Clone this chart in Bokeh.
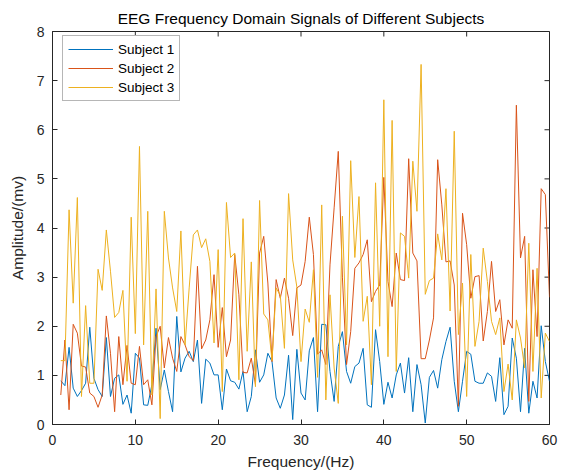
import math
from bokeh.plotting import figure
from bokeh.models import Range1d, FixedTicker, Legend, LegendItem
from bokeh.embed import file_html
from bokeh.resources import INLINE

# frequency grid (Hz), 0.5 Hz steps from 1 to 60
freq = [1 + 0.5 * i for i in range(119)]

subject1 = [
    0.89, 0.79, 1.57, 0.74, 0.57, 0.69, 0.84, 1.98, 0.94, 0.71,  # 1-5.5
    0.57, 1.77, 0.57, 0.94, 1.01, 0.41, 0.60, 0.23, 1.45, 1.35,  # 6-10.5
    0.40, 0.39, 0.81, 1.96, 0.71, 1.11, 0.67, 0.26, 2.20, 1.07,  # 11-15.5
    1.35, 1.49, 1.28, 1.72, 0.43, 1.33, 1.25, 1.01, 1.01, 0.30,  # 16-20.5
    1.13, 0.89, 0.86, 0.72, 1.08, 0.26, 0.57, 1.52, 0.86, 1.01,  # 21-25.5
    1.45, 1.28, 0.54, 0.33, 0.60, 1.41, 0.10, 1.53, 0.64, 0.50,  # 26-30.5
    1.50, 1.77, 0.26, 2.04, 2.03, 1.08, 0.47, 1.59, 1.89, 1.08,  # 31-35.5
    0.84, 1.18, 1.25, 1.55, 0.40, 0.35, 1.93, 1.28, 0.41, 0.86,  # 36-40.5
    0.54, 1.01, 1.25, 0.64, 1.36, 0.26, 1.22, 0.81, 0.03, 0.96,  # 41-45.5
    1.10, 0.74, 1.32, 1.69, 1.98, 0.88, 0.26, 0.88, 1.49, 1.43,  # 46-50.5
    0.88, 0.84, 0.84, 1.05, 0.98, 0.47, 1.36, 0.20, 0.37, 1.76,  # 51-55.5
    1.35, 0.26, 1.55, 0.23, 0.88, 0.54, 2.01, 1.28, 0.88,        # 56-60
]

subject2 = [
    0.60, 1.72, 0.30, 2.04, 1.86, 1.19, 1.17, 0.64, 0.57, 0.35,
    0.60, 2.21, 1.45, 0.26, 1.79, 0.81, 1.61, 0.84, 0.81, 1.59,
    0.81, 0.91, 0.40, 1.79, 2.00, 1.15, 1.77, 1.35, 1.08, 1.79,
    1.62, 1.38, 1.30, 3.22, 1.54, 1.72, 2.13, 3.05, 1.57, 2.38,
    1.38, 1.72, 3.46, 2.64, 1.06, 1.05, 1.35, 0.81, 3.49, 3.83,
    2.88, 1.28, 2.95, 2.57, 2.98, 2.57, 1.81, 2.78, 2.84, 3.32,
    4.22, 3.46, 1.43, 1.52, 1.22, 3.25, 4.41, 5.56, 3.00, 1.22,
    1.89, 3.18, 3.29, 3.46, 3.76, 2.50, 2.71, 2.84, 5.03, 2.91,
    2.40, 3.49, 2.95, 2.93, 5.41, 3.49, 3.33, 1.34, 1.34, 1.72,
    2.17, 5.39, 4.47, 3.31, 3.33, 2.84, 0.37, 4.30, 3.66, 2.57,
    3.01, 3.03, 1.70, 2.30, 3.32, 2.30, 2.54, 1.62, 2.13, 1.96,
    6.50, 3.39, 3.83, 0.47, 3.15, 1.79, 4.80, 4.68, 2.59,
]

subject3 = [
    1.30, 1.30, 4.37, 2.47, 4.62, 0.57, 2.42, 0.84, 0.84, 3.16,
    2.73, 3.96, 3.12, 2.18, 2.28, 2.73, 0.88, 4.22, 1.85, 5.66,
    1.62, 4.34, 0.60, 2.76, 0.12, 4.34, 3.39, 2.78, 2.30, 3.94,
    1.62, 2.78, 3.86, 3.96, 3.60, 3.78, 3.32, 1.66, 3.56, 0.67,
    4.52, 3.40, 3.49, 0.91, 4.19, 1.49, 3.31, 0.77, 4.56, 2.25,
    2.13, 1.30, 2.78, 2.63, 1.55, 4.70, 3.35, 2.80, 1.28, 2.35,
    2.08, 3.15, 0.96, 4.47, 0.50, 2.64, 1.15, 0.43, 4.24, 1.62,
    5.37, 3.40, 4.64, 2.10, 2.61, 0.81, 4.92, 2.00, 6.61, 1.38,
    6.19, 1.08, 3.90, 3.83, 2.98, 5.36, 4.34, 7.33, 2.65, 2.93,
    2.98, 3.88, 3.35, 4.80, 2.31, 5.97, 1.83, 2.88, 0.57, 3.46,
    1.59, 2.10, 3.59, 2.91, 2.10, 1.83, 2.17, 0.67, 1.23, 0.50,
    2.13, 1.76, 1.15, 3.69, 1.08, 3.18, 0.54, 1.86, 1.69,
]

series_names = ["Subject 1", "Subject 2", "Subject 3"]
series_colors = ["#0072BD", "#D95319", "#EDB120"]
x_ticks = [0, 10, 20, 30, 40, 50, 60]
y_ticks = [0, 1, 2, 3, 4, 5, 6, 7, 8]
x_lo, x_hi = 0, 60
y_lo, y_hi = 0, 8

FONT = "Liberation Sans"
TXT = "#262626"

p = figure(width=568, height=472, output_backend="svg", toolbar_location=None,
           x_range=Range1d(x_lo, x_hi), y_range=Range1d(y_lo, y_hi),
           x_axis_label="Frequency/(Hz)", y_axis_label="Amplitude/(mv)",
           min_border_left=52, min_border_right=19, min_border_top=31, min_border_bottom=48)
p.title.text = "EEG Frequency Domain Signals of Different Subjects"
p.title.align = "center"
p.title.text_font = FONT
p.title.text_font_size = "15.5px"
p.title.text_font_style = "normal"
p.title.text_color = "#000000"
p.title.standoff = 9

p.xgrid.visible = False
p.ygrid.visible = False
p.outline_line_color = TXT
p.outline_line_width = 1
p.background_fill_color = "white"
p.border_fill_color = "white"

for ax, ticks in ((p.xaxis[0], x_ticks), (p.yaxis[0], y_ticks)):
    ax.ticker = FixedTicker(ticks=ticks)
    ax.major_tick_in = 5
    ax.major_tick_out = 0
    ax.minor_tick_line_color = None
    ax.axis_line_color = TXT
    ax.major_tick_line_color = TXT
    ax.major_label_text_font = FONT
    ax.major_label_text_font_size = "14px"
    ax.major_label_text_color = TXT
    ax.axis_label_text_font = FONT
    ax.axis_label_text_font_size = "15.5px"
    ax.axis_label_text_font_style = "normal"
    ax.axis_label_text_color = TXT
p.xaxis[0].major_label_standoff = 10
p.xaxis[0].axis_label_standoff = 5
p.yaxis[0].major_label_standoff = 8
p.yaxis[0].axis_label_standoff = 8

# mirrored inward ticks on the top and right edges of the box
p.ray(x=x_ticks, y=[y_hi] * len(x_ticks), length=5, length_units="screen",
      angle=-math.pi / 2, line_color=TXT, line_width=1)
p.ray(x=[x_hi] * len(y_ticks), y=y_ticks, length=5, length_units="screen",
      angle=math.pi, line_color=TXT, line_width=1)

items = []
for name, ys, col in zip(series_names, [subject1, subject2, subject3], series_colors):
    r = p.line(freq, ys, line_color=col, line_width=1)
    items.append(LegendItem(label=name, renderers=[r]))

legend = Legend(items=items, location=(10, 323))
legend.margin = 0
legend.padding = 5
legend.spacing = 3
legend.glyph_width = 45
legend.glyph_height = 16
legend.label_height = 16
legend.label_standoff = 5
legend.label_text_font = FONT
legend.label_text_font_size = "13.5px"
legend.label_text_color = "#000000"
legend.border_line_color = "#6e6e6e"
legend.border_line_width = 1
legend.background_fill_alpha = 1
p.add_layout(legend)

open("out.html", "w").write(file_html(p, INLINE))
